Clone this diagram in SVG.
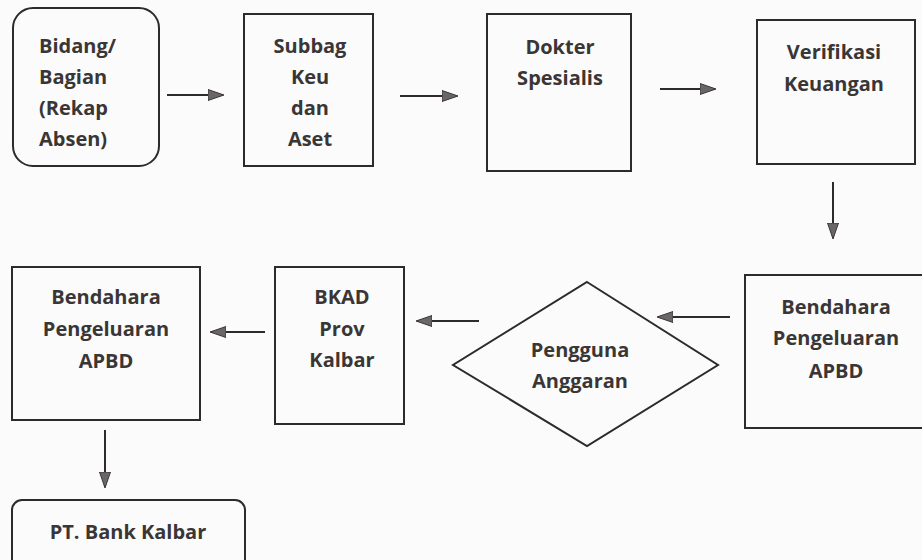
<svg xmlns="http://www.w3.org/2000/svg" width="922" height="560" viewBox="0 0 922 560">
  <style>
    .box { fill: none; stroke: #2e2a2a; stroke-width: 2; }
    .lbl { font-family: "Open Sans", "Liberation Sans", sans-serif; font-weight: 700; font-size: 20px; fill: #3a3636; text-anchor: middle; }
    .lbl-l { text-anchor: start; }
    .edge { stroke: #2e2a2a; stroke-width: 2; fill: none; marker-end: url(#head); }
  </style>
  <defs>
    <marker id="head" viewBox="0 0 16 12" refX="15" refY="6" markerWidth="16" markerHeight="12" markerUnits="userSpaceOnUse" orient="auto">
      <path d="M0,0.5 L16,6 L0,11.5 Z" fill="#6a6666" stroke="#3a3636" stroke-width="1"/>
    </marker>
  </defs>
  <rect width="922" height="560" fill="#fbfbfb"/>

  <g id="bidang">
    <rect class="box" x="13" y="8" width="146" height="158" rx="20"/>
    <text class="lbl lbl-l" x="39" y="53">Bidang/</text>
    <text class="lbl lbl-l" x="39" y="84">Bagian</text>
    <text class="lbl lbl-l" x="39" y="115">(Rekap</text>
    <text class="lbl lbl-l" x="39" y="146">Absen)</text>
  </g>

  <g id="subbag">
    <rect class="box" x="244" y="14" width="129" height="152"/>
    <text class="lbl" x="310" y="53">Subbag</text>
    <text class="lbl" x="310" y="84">Keu</text>
    <text class="lbl" x="310" y="115">dan</text>
    <text class="lbl" x="310" y="146">Aset</text>
  </g>

  <g id="dokter">
    <rect class="box" x="487" y="14" width="144" height="157"/>
    <text class="lbl" x="560" y="54">Dokter</text>
    <text class="lbl" x="560" y="85">Spesialis</text>
  </g>

  <g id="verifikasi">
    <rect class="box" x="757" y="20" width="158" height="144"/>
    <text class="lbl" x="834" y="59">Verifikasi</text>
    <text class="lbl" x="834" y="91">Keuangan</text>
  </g>

  <g id="bendahara-kanan">
    <rect class="box" x="745" y="275" width="190" height="153"/>
    <text class="lbl" x="836" y="314">Bendahara</text>
    <text class="lbl" x="836" y="345">Pengeluaran</text>
    <text class="lbl" x="836" y="378">APBD</text>
  </g>

  <g id="pengguna">
    <polygon class="box" points="587,282 718,365 587,446 453,365"/>
    <text class="lbl" x="580" y="357">Pengguna</text>
    <text class="lbl" x="580" y="388">Anggaran</text>
  </g>

  <g id="bkad">
    <rect class="box" x="275" y="267" width="129" height="157"/>
    <text class="lbl" x="342" y="304">BKAD</text>
    <text class="lbl" x="342" y="336">Prov</text>
    <text class="lbl" x="342" y="367">Kalbar</text>
  </g>

  <g id="bendahara-kiri">
    <rect class="box" x="12" y="267" width="188" height="153"/>
    <text class="lbl" x="106" y="304">Bendahara</text>
    <text class="lbl" x="106" y="336">Pengeluaran</text>
    <text class="lbl" x="106" y="368">APBD</text>
  </g>

  <g id="bank">
    <rect class="box" x="12" y="500" width="233" height="75" rx="10"/>
    <text class="lbl" x="128" y="539">PT. Bank Kalbar</text>
  </g>

  <g id="connectors">
    <line class="edge" x1="167" y1="95" x2="223" y2="95"/>
    <line class="edge" x1="400" y1="96" x2="457" y2="96"/>
    <line class="edge" x1="660" y1="89" x2="715" y2="89"/>
    <line class="edge" x1="833" y1="182" x2="833" y2="238"/>
    <line class="edge" x1="730" y1="317" x2="658" y2="317"/>
    <line class="edge" x1="479" y1="321" x2="417" y2="321"/>
    <line class="edge" x1="265" y1="332" x2="211" y2="332"/>
    <line class="edge" x1="105" y1="430" x2="105" y2="487"/>
  </g>
</svg>
